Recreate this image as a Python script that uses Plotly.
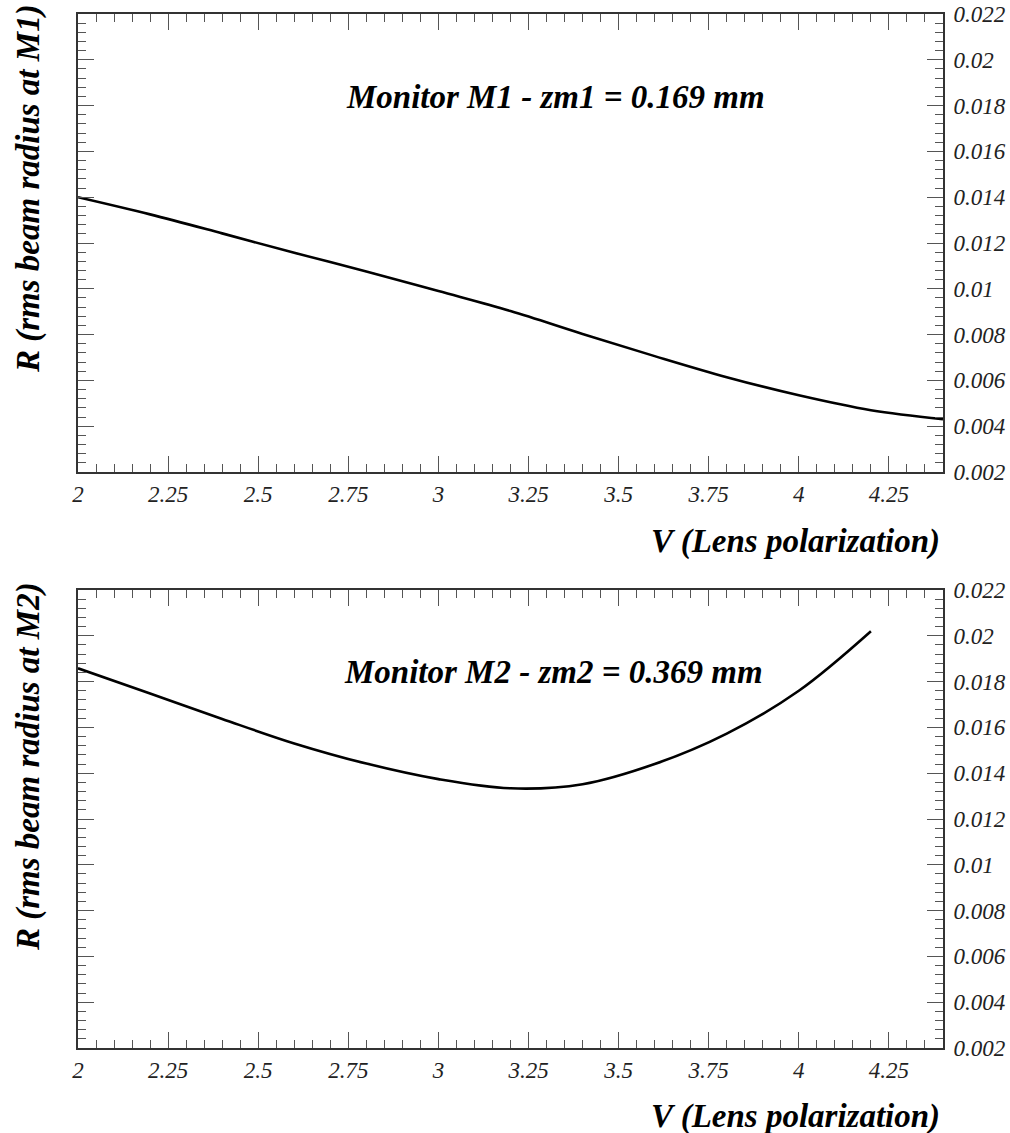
import plotly.graph_objects as go

# ---- data ----
v_m1 = [2.0, 2.2, 2.4, 2.6, 2.8, 3.0, 3.2, 3.4, 3.6, 3.8, 4.0, 4.2, 4.4]
r_m1 = [0.01400, 0.01325, 0.01242, 0.01157, 0.01076, 0.00990, 0.00903,
        0.00803, 0.00706, 0.00614, 0.00535, 0.00470, 0.00431]

v_m2 = [2.0, 2.2, 2.4, 2.6, 2.8, 3.0, 3.2, 3.4, 3.6, 3.8, 4.0, 4.2]
r_m2 = [0.01858, 0.01748, 0.01637, 0.01530, 0.01442, 0.01374, 0.01334,
        0.01352, 0.01440, 0.01573, 0.01760, 0.02020]

x_tickvals = [2, 2.25, 2.5, 2.75, 3, 3.25, 3.5, 3.75, 4, 4.25]
x_ticktext = ["2", "2.25", "2.5", "2.75", "3", "3.25", "3.5", "3.75", "4", "4.25"]
y_tickvals = [0.002, 0.004, 0.006, 0.008, 0.010, 0.012, 0.014, 0.016, 0.018, 0.020, 0.022]
y_ticktext = ["0.002", "0.004", "0.006", "0.008", "0.01", "0.012", "0.014",
              "0.016", "0.018", "0.02", "0.022"]

titles = ["Monitor M1 - zm1 = 0.169 mm", "Monitor M2 - zm2 = 0.369 mm"]
ytitles = ["R (rms beam radius at M1)", "R (rms beam radius at M2)"]
xtitle = "V (Lens polarization)"

W, H = 1010, 1133
FONT = "Liberation Serif, 'Times New Roman', Times, 'DejaVu Serif', serif"

def px_x(p):
    return p / W

def px_y(p):
    return 1 - p / H

fig = go.Figure()
fig.add_trace(go.Scatter(x=v_m1, y=r_m1, mode="lines", line=dict(color="black", width=2.6, shape="spline"),
                         xaxis="x", yaxis="y", showlegend=False))
fig.add_trace(go.Scatter(x=v_m2, y=r_m2, mode="lines", line=dict(color="black", width=2.6, shape="spline"),
                         xaxis="x2", yaxis="y2", showlegend=False))

xdom = [px_x(78), px_x(943)]

def xaxis_cfg(anchor):
    return dict(domain=xdom, anchor=anchor, range=[2, 4.4], showgrid=False, zeroline=False,
                automargin=False,
                showline=True, linecolor="#333", linewidth=2, mirror="ticks",
                ticks="inside", ticklen=16, tickwidth=1, tickcolor="#555",
                tickvals=x_tickvals, ticktext=x_ticktext,
                tickfont=dict(family=FONT, size=23, color="#222", style="italic"),
                minor=dict(dtick=0.05, tick0=2, ticks="inside", ticklen=8, tickcolor="#555", tickwidth=1))

def yaxis_cfg(anchor, dom):
    return dict(domain=dom, anchor=anchor, range=[0.002, 0.022], side="right", showgrid=False, zeroline=False,
                automargin=False,
                showline=True, linecolor="#333", linewidth=2, mirror="ticks",
                ticks="inside", ticklen=16, tickwidth=1, tickcolor="#555",
                ticklabelstandoff=4,
                tickvals=y_tickvals, ticktext=y_ticktext,
                tickfont=dict(family=FONT, size=23, color="#222", style="italic"),
                minor=dict(dtick=0.0004, tick0=0.002, ticks="inside", ticklen=8, tickcolor="#555", tickwidth=1))

fig.update_layout(
    width=W, height=H,
    margin=dict(l=0, r=0, t=0, b=0, autoexpand=False),
    paper_bgcolor="white", plot_bgcolor="white",
    xaxis=xaxis_cfg("y"),
    yaxis=yaxis_cfg("x", [px_y(472), px_y(14)]),
    xaxis2=xaxis_cfg("y2"),
    yaxis2=yaxis_cfg("x2", [px_y(1048), px_y(590)]),
)

ann_font = dict(family=FONT, size=33, color="black", weight="bold", style="italic")
annotations = [
    dict(text=titles[0], x=px_x(555), y=px_y(97)),
    dict(text=titles[1], x=px_x(553), y=px_y(672)),
]
for a in annotations:
    a.update(xref="paper", yref="paper", showarrow=False, font=ann_font,
             xanchor="center", yanchor="middle")

title_font = dict(family=FONT, size=33, color="black", weight="bold", style="italic")
annotations += [
    dict(text=xtitle, x=px_x(942), y=px_y(541), xref="paper", yref="paper", showarrow=False,
         font=title_font, xanchor="right", yanchor="middle"),
    dict(text=xtitle, x=px_x(942), y=px_y(1116), xref="paper", yref="paper", showarrow=False,
         font=title_font, xanchor="right", yanchor="middle"),
    dict(text=ytitles[0], x=px_x(28), y=px_y(189), xref="paper", yref="paper", showarrow=False,
         font=title_font, xanchor="center", yanchor="middle", textangle=-90),
    dict(text=ytitles[1], x=px_x(28), y=px_y(767), xref="paper", yref="paper", showarrow=False,
         font=title_font, xanchor="center", yanchor="middle", textangle=-90),
]
fig.update_layout(annotations=annotations)

fig.write_html("out.html", config={"displayModeBar": False},
               post_script="document.body.style.margin='0';document.body.style.overflow='hidden';")
